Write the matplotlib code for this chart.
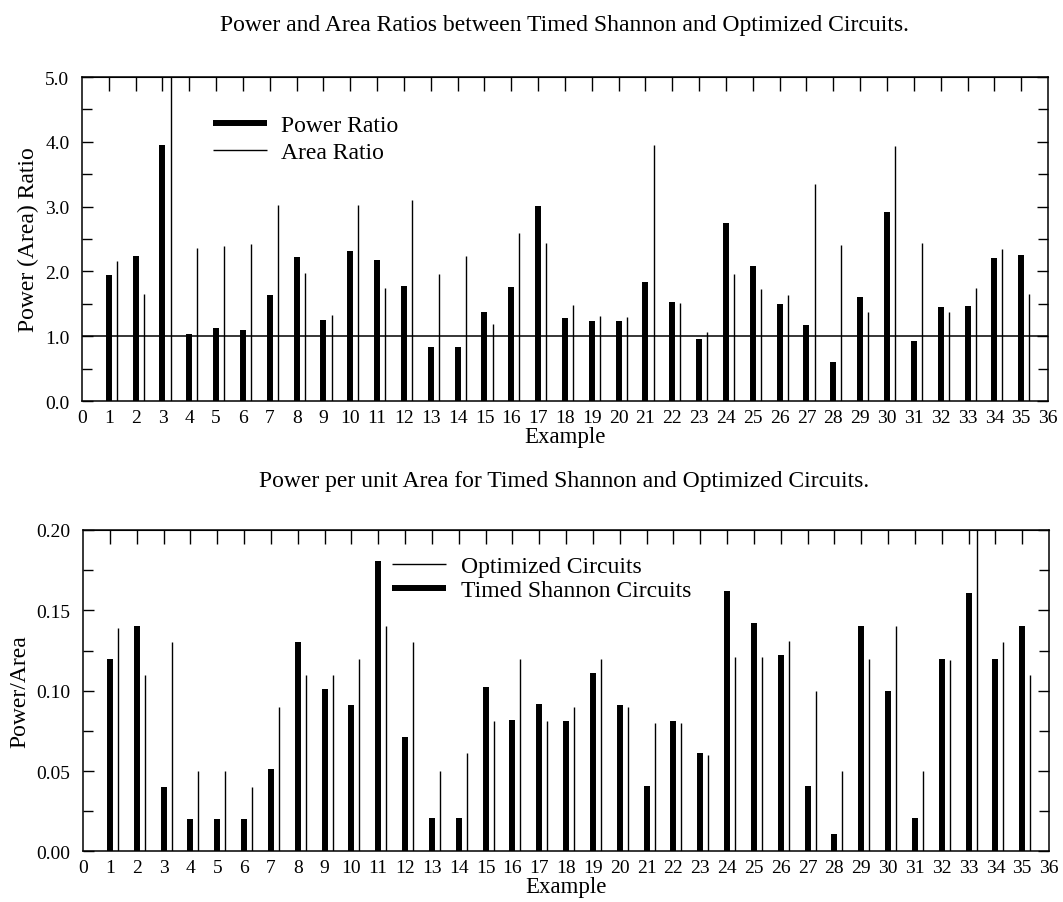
import matplotlib
matplotlib.use("Agg")
import matplotlib.pyplot as plt
import numpy as np

plt.rcParams['font.family'] = ['Liberation Serif', 'DejaVu Serif']

examples = np.arange(1, 36)

# top chart: power and area ratios (Timed Shannon / Optimized)
power_ratio = [1.95, 2.24, 3.95, 1.04, 1.13, 1.09, 1.64, 2.23, 1.25, 2.31,
               2.17, 1.77, 0.84, 0.84, 1.37, 1.76, 3.01, 1.28, 1.24, 1.23,
               1.84, 1.53, 0.95, 2.74, 2.09, 1.49, 1.18, 0.60, 1.60, 2.92,
               0.93, 1.45, 1.46, 2.20, 2.26]
area_ratio = [2.16, 1.65, 5.30, 2.36, 2.39, 2.43, 3.02, 1.98, 1.33, 3.03,
              1.74, 3.10, 1.96, 2.24, 1.19, 2.60, 2.44, 1.48, 1.31, 1.29,
              3.95, 1.52, 1.06, 1.96, 1.73, 1.63, 3.35, 2.40, 1.37, 3.94,
              2.44, 1.38, 1.74, 2.35, 1.65]

# bottom chart: power per unit area
timed_shannon = [0.120, 0.140, 0.040, 0.020, 0.020, 0.020, 0.051, 0.130, 0.101, 0.091,
                 0.181, 0.071, 0.021, 0.021, 0.102, 0.082, 0.092, 0.081, 0.111, 0.091,
                 0.041, 0.081, 0.061, 0.162, 0.142, 0.122, 0.041, 0.011, 0.140, 0.100,
                 0.021, 0.120, 0.161, 0.120, 0.140]
optimized = [0.139, 0.110, 0.130, 0.050, 0.050, 0.040, 0.090, 0.110, 0.110, 0.120,
             0.140, 0.130, 0.050, 0.061, 0.081, 0.120, 0.081, 0.090, 0.120, 0.090,
             0.080, 0.080, 0.060, 0.121, 0.121, 0.131, 0.100, 0.050, 0.120, 0.140,
             0.050, 0.119, 0.210, 0.130, 0.110]

off = 0.3  # thin line sits just right of the thick one
thick = 4.3
thin = 1.0

fig = plt.figure(figsize=(10.63, 9.03), dpi=100)

def style_axes(ax, ymax, major, minor, fmt):
    ax.set_xlim(0, 36)
    ax.set_ylim(0, ymax)
    ax.set_xticks(range(0, 37))
    ax.set_yticks(np.arange(0, ymax + major / 2, major))
    ax.set_yticks(np.arange(0, ymax + minor / 2, minor), minor=True)
    ax.yaxis.set_major_formatter(matplotlib.ticker.FormatStrFormatter(fmt))
    ax.tick_params(axis='x', which='both', bottom=False, top=False, labelsize=14, pad=2)
    ax.tick_params(axis='y', which='both', direction='in', left=True, right=True,
                   labelsize=14, pad=9, width=1.0)
    ax.tick_params(axis='y', which='major', length=8)
    ax.tick_params(axis='y', which='minor', length=7)
    # top ticks at each example
    sec = ax.secondary_xaxis('top')
    sec.set_xticks(range(1, 36))
    sec.tick_params(direction='in', length=10, width=1.0, labeltop=False)
    for s in ax.spines.values():
        s.set_linewidth(1.1)
    ax.set_xlabel('Example', fontsize=16.5, labelpad=0)

# ---- top chart ----
ax1 = fig.add_axes([0.0771, 0.5548, 0.9088, 0.3588])
ax1.vlines(examples, 0, power_ratio, colors='black', lw=thick, label='Power Ratio')
ax1.vlines(examples + off, 0, area_ratio, colors='black', lw=thin, label='Area Ratio')
ax1.axhline(1.0, color='black', lw=1.1)
style_axes(ax1, 5.0, 1.0, 0.5, '%.1f')
ax1.set_ylabel('Power (Area) Ratio', fontsize=17, labelpad=4)
ax1.legend(loc='upper left', bbox_to_anchor=(0.1356, 0.885), frameon=False,
           fontsize=17, handlelength=2.3, handletextpad=0.6, labelspacing=0.25,
           borderpad=0, borderaxespad=0)
fig.text(0.531, 1 - 25 / 903, 'Power and Area Ratios between Timed Shannon and Optimized Circuits.',
         ha='center', va='center', fontsize=17)

# ---- bottom chart ----
ax2 = fig.add_axes([0.0781, 0.0560, 0.9088, 0.3560])
ax2.vlines(examples + off, 0, optimized, colors='black', lw=thin, label='Optimized Circuits')
ax2.vlines(examples, 0, timed_shannon, colors='black', lw=thick, label='Timed Shannon Circuits')
style_axes(ax2, 0.20, 0.05, 0.025, '%.2f')
ax2.set_ylabel('Power/Area', fontsize=17, labelpad=4)
ax2.legend(loc='upper left', bbox_to_anchor=(0.32, 0.92), frameon=False,
           fontsize=17, handlelength=2.3, handletextpad=0.6, labelspacing=0.1,
           borderpad=0, borderaxespad=0)
fig.text(0.531, 1 - 482 / 903, 'Power per unit Area for Timed Shannon and Optimized Circuits.',
         ha='center', va='center', fontsize=17)

fig.savefig('out.png', dpi=100)
